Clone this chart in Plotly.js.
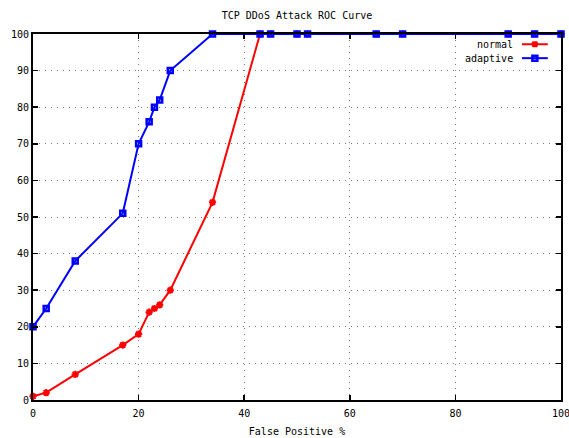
<!DOCTYPE html>
<html>
<head>
<meta charset="utf-8">
<script src="https://cdn.plot.ly/plotly-3.0.1.min.js"></script>
<style>html,body{margin:0;padding:0;background:#fff;}</style>
</head>
<body>
<div id="chart" style="width:569px;height:438px;"></div>
<script>
var chartTitle = "TCP DDoS Attack ROC Curve";
var xTitle = "False Positive %";
var seriesNames = ["normal", "adaptive"];
var normalX = [0, 2.5, 8, 17, 20, 22, 23, 24, 26, 34, 43, 45, 50, 52, 65, 70, 90, 95, 100];
var normalY = [1, 2, 7, 15, 18, 24, 25, 26, 30, 54, 100, 100, 100, 100, 100, 100, 100, 100, 100];
var adaptiveX = [0, 2.5, 8, 17, 20, 22, 23, 24, 26, 34, 43, 45, 50, 52, 65, 70, 90, 95, 100];
var adaptiveY = [20, 25, 38, 51, 70, 76, 80, 82, 90, 100, 100, 100, 100, 100, 100, 100, 100, 100, 100];
var xTicks = [0, 20, 40, 60, 80, 100];
var yTicks = [0, 10, 20, 30, 40, 50, 60, 70, 80, 90, 100];

var FONT = "DejaVu Sans Mono";
var FS = 10;
var traces = [
  {x: normalX, y: normalY, name: seriesNames[0], type: "scatter", mode: "lines+markers",
   line: {color: "#ff0000", width: 2}, cliponaxis: false,
   marker: {symbol: "asterisk-open", size: 6, color: "#ff0000", line: {color: "#ff0000", width: 2}}},
  {x: adaptiveX, y: adaptiveY, name: seriesNames[1], type: "scatter", mode: "lines+markers",
   line: {color: "#0000ff", width: 2}, cliponaxis: false,
   marker: {symbol: "square-open", size: 5, color: "#0000ff", line: {color: "#0000ff", width: 2.5}}}
];

var legX = 0.913, legY = [0.972, 0.934];
var lineX0 = 0.926, lineX1 = 0.975, markX = 0.9505;
var colors = ["#ff0000", "#0000ff"];
var shapes = [], annotations = [];
for (var i = 0; i < 2; i++) {
  annotations.push({xref: "paper", yref: "paper", x: legX, y: legY[i], xanchor: "right", yanchor: "middle",
    text: seriesNames[i], showarrow: false, font: {family: FONT, size: FS, color: "#000"}});
  shapes.push({type: "line", xref: "paper", yref: "paper", x0: lineX0, x1: lineX1, y0: legY[i], y1: legY[i],
    line: {color: colors[i], width: 2}});
}
shapes.push({type: "path", xref: "paper", yref: "paper", xsizemode: "pixel", ysizemode: "pixel",
  xanchor: markX, yanchor: legY[0],
  path: "M-3,0 L3,0 M0,-3 L0,3 M-2.5,-2.5 L2.5,2.5 M-2.5,2.5 L2.5,-2.5",
  line: {color: "#ff0000", width: 2}});
shapes.push({type: "rect", xref: "paper", yref: "paper", xsizemode: "pixel", ysizemode: "pixel",
  xanchor: markX, yanchor: legY[1], x0: -2.5, x1: 2.5, y0: -2.5, y1: 2.5,
  line: {color: "#0000ff", width: 2.5}, fillcolor: "rgba(0,0,0,0)"});

var axisCommon = {
  showline: true, linecolor: "#000", linewidth: 2, mirror: "ticks",
  ticks: "inside", ticklen: 5, tickwidth: 1.5, tickcolor: "#000",
  showgrid: true, gridcolor: "#777", gridwidth: 1, griddash: "1px,5px",
  zeroline: false, layer: "above traces", ticklabeloverflow: "allow",
  tickfont: {family: FONT, size: FS, color: "#000"}
};
var layout = {
  width: 569, height: 438,
  margin: {l: 33, r: 8, t: 34, b: 38},
  paper_bgcolor: "#fff", plot_bgcolor: "#fff",
  showlegend: false,
  title: {text: chartTitle, font: {family: FONT, size: FS, color: "#000"},
    x: 0.522, xanchor: "center", yref: "container", y: 0.964, yanchor: "middle"},
  xaxis: Object.assign({}, axisCommon, {range: [0, 100], tickvals: xTicks, ticktext: xTicks.map(String),
    ticklabelstandoff: 3,
    title: {text: xTitle, font: {family: FONT, size: FS, color: "#000"}, standoff: 10}}),
  yaxis: Object.assign({}, axisCommon, {range: [0, 100], tickvals: yTicks, ticktext: yTicks.map(String)}),
  shapes: shapes,
  annotations: annotations
};
Plotly.newPlot("chart", traces, layout, {displayModeBar: false, staticPlot: true});
</script>
</body>
</html>
